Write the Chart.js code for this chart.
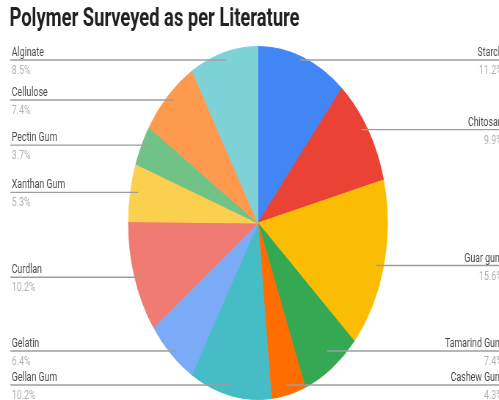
<!DOCTYPE html>
<html>
<head>
<meta charset="utf-8">
<script src="https://cdn.jsdelivr.net/npm/chart.js@4"></script>
<style>
html,body{margin:0;padding:0;background:#fff;overflow:hidden;width:499px;height:400px;}
#wrap{width:680px;height:400px;transform:scaleX(0.73382);transform-origin:0 0;}
canvas{display:block;}
</style>
</head>
<body>
<div id="wrap"><canvas id="c" width="680" height="400"></canvas></div>
<script>
const chartTitle = 'Polymer Surveyed as per Literature';
const categories = ['Starch','Chitosan','Guar gum','Tamarind Gum','Cashew Gum','Gellan Gum','Gelatin','Curdlan','Xanthan Gum','Pectin Gum','Cellulose','Alginate'];
const shares = [11.2, 9.9, 15.6, 7.4, 4.3, 10.2, 6.4, 10.2, 5.3, 3.7, 7.4, 8.5];
const colors = ['#4285F4','#EA4335','#FBBC04','#34A853','#FF6D01','#46BDC6','#7BAAF7','#F07B72','#FCD04F','#71C287','#FF994D','#7ED1D7'];

const labelPlugin = {
  id: 'sideLabels',
  afterDraw(chart) {
    const ctx = chart.ctx;
    const meta = chart.getDatasetMeta(0);
    const W = chart.width;
    // title
    ctx.save();
    ctx.fillStyle = '#212121';
    ctx.font = 'bold 25px Roboto, "Liberation Sans", sans-serif';
    ctx.textBaseline = 'alphabetic';
    ctx.textAlign = 'left';
    ctx.fillText(chartTitle, 13, 26);
    ctx.restore();

    const items = meta.data.map((arc, i) => {
      const p = arc.getProps(['x','y','startAngle','endAngle','outerRadius'], true);
      const mid = (p.startAngle + p.endAngle) / 2;
      const r = p.outerRadius;
      return {
        i,
        right: Math.cos(mid) >= 0,
        baseY: p.y + Math.sin(mid) * r,
        ax: p.x + Math.cos(mid) * r * 0.94,
        ay: p.y + Math.sin(mid) * r * 0.94
      };
    });
    const minY = 60, maxY = 385;
    [true, false].forEach(side => {
      const list = items.filter(it => it.right === side).sort((a, b) => a.baseY - b.baseY);
      let prev = -Infinity;
      list.forEach(it => { it.ly = Math.max(it.baseY, minY, prev + 40); prev = it.ly; });
      let next = Infinity;
      for (let k = list.length - 1; k >= 0; k--) {
        const it = list[k];
        it.ly = Math.min(it.ly, maxY, next - 34);
        next = it.ly;
      }
    });
    ctx.save();
    items.forEach(it => {
      ctx.strokeStyle = '#9e9e9e';
      ctx.lineWidth = 1.3;
      ctx.beginPath();
      if (it.right) {
        ctx.moveTo(it.ax, it.ly);
        ctx.lineTo(W, it.ly);
      } else {
        ctx.moveTo(14, it.ly);
        ctx.lineTo(it.ax, it.ly);
      }
      ctx.stroke();
      const tx = it.right ? 685 : 16;
      ctx.textAlign = it.right ? 'right' : 'left';
      ctx.font = '12px Roboto, "Liberation Sans", sans-serif';
      ctx.fillStyle = '#4a4a4a';
      ctx.textBaseline = 'alphabetic';
      ctx.fillText(categories[it.i], tx, it.ly - 4);
      ctx.fillStyle = '#b0b0b0';
      ctx.fillText(shares[it.i].toFixed(1) + '%', tx, it.ly + 14);
    });
    ctx.restore();
  }
};

new Chart(document.getElementById('c'), {
  type: 'pie',
  data: {
    labels: categories,
    datasets: [{
      data: shares,
      backgroundColor: colors,
      borderColor: colors,
      borderWidth: 1
    }]
  },
  options: {
    responsive: false,
    animation: false,
    layout: { padding: { top: 46, bottom: 0, left: 174.5, right: 151.5 } },
    plugins: { legend: { display: false }, title: { display: false }, tooltip: { enabled: false } }
  },
  plugins: [labelPlugin]
});
</script>
</body>
</html>
